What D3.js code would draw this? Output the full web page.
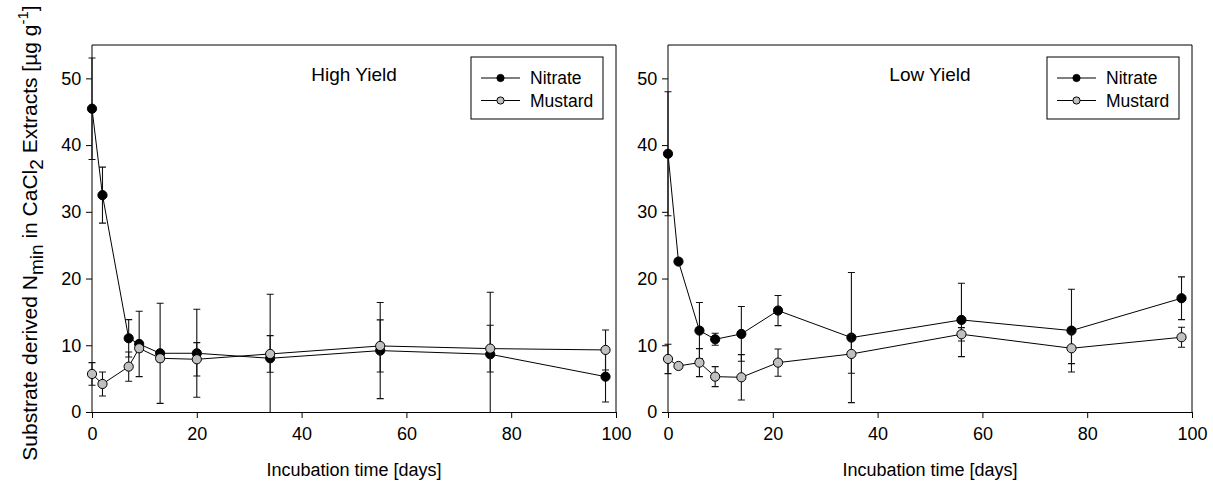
<!DOCTYPE html>
<html>
<head>
<meta charset="utf-8">
<script src="https://cdn.jsdelivr.net/npm/d3@7"></script>
<style>
  body { margin: 0; background: #fff; }
  svg { display: block; font-family: Arial, "Liberation Sans", sans-serif; }
</style>
</head>
<body>
<svg></svg>
<script>
// High yield soil
const daysHigh = [0, 2, 7, 9, 13, 20, 34, 55, 76, 98];
const nitrateHigh = [45.45, 32.5, 11.05, 10.2, 8.8, 8.8, 8.05, 9.2, 8.65, 5.3];
const nitrateHighErr = [7.6, 4.2, 2.8, 4.9, 7.5, 6.6, 9.6, 7.2, 9.3, 3.8];
const mustardHigh = [5.7, 4.2, 6.8, 9.55, 8.05, 7.9, 8.7, 9.9, 9.5, 9.3];
const mustardHighErr = [1.7, 1.8, 2.2, 0.5, 0.5, 2.5, 2.75, 3.9, 3.5, 3.0];

// Low yield soil
const daysLow = [0, 2, 6, 9, 14, 21, 35, 56, 77, 98];
const nitrateLow = [38.7, 22.55, 12.2, 10.9, 11.7, 15.2, 11.15, 13.8, 12.2, 17.05];
const nitrateLowErr = [9.3, 0.4, 4.2, 0.9, 4.1, 2.25, 9.75, 5.5, 6.2, 3.2];
const mustardLow = [7.95, 6.9, 7.4, 5.3, 5.2, 7.4, 8.7, 11.65, 9.55, 11.2];
const mustardLowErr = [2.2, 0.4, 2.1, 1.5, 3.4, 2.05, 2.9, 1.0, 2.3, 1.5];

const xTicks = [0, 20, 40, 60, 80, 100];
const yTicks = [0, 10, 20, 30, 40, 50];
const seriesNames = ["Nitrate", "Mustard"];
const seriesFill = ["#000000", "#c0c0c0"];

const width = 1213, height = 485;
const marginTop = 45, marginBottom = 73;

const svg = d3.select("svg")
  .attr("width", width)
  .attr("height", height)
  .attr("viewBox", [0, 0, width, height]);

const y = d3.scaleLinear()
  .domain([0, 55])
  .range([height - marginBottom, marginTop]);

function panel(id, left, right, title, days, series) {
  const x = d3.scaleLinear().domain([0, 100]).range([left, right]);
  const g = svg.append("g");

  // error bars are cut at the x axis, markers are not
  g.append("clipPath").attr("id", id)
    .append("rect")
    .attr("x", left - 10).attr("y", 0)
    .attr("width", right - left + 20).attr("height", y(0));

  // frame (top and right edges)
  g.append("path")
    .attr("d", `M${left},${marginTop}H${right}V${y(0)}`)
    .attr("fill", "none").attr("stroke", "#000");

  // axes
  g.append("g")
    .attr("transform", `translate(0,${y(0)})`)
    .call(d3.axisBottom(x).tickValues(xTicks).tickSize(6).tickSizeOuter(0))
    .call(a => a.selectAll("text").attr("font-size", 18).attr("dy", "1.05em")
      .attr("font-family", "Arial, 'Liberation Sans', sans-serif"));
  g.append("g")
    .attr("transform", `translate(${left},0)`)
    .call(d3.axisLeft(y).tickValues(yTicks).tickSize(6).tickSizeOuter(0))
    .call(a => a.select(".domain").attr("d", `M0,${y(0)}V${marginTop}`))
    .call(a => a.selectAll("text").attr("font-size", 18).attr("dx", "-0.1em")
      .attr("font-family", "Arial, 'Liberation Sans', sans-serif"));

  g.append("text")
    .attr("x", (left + right) / 2).attr("y", 81)
    .attr("text-anchor", "middle").attr("font-size", 19)
    .text(title);

  g.append("text")
    .attr("x", (left + right) / 2).attr("y", 476)
    .attr("text-anchor", "middle").attr("font-size", 18)
    .text("Incubation time [days]");

  const plot = g.append("g");

  series.forEach((s, k) => {
    const pts = days.map((d, i) => ({ d, v: s.values[i], e: s.errors[i] }));

    plot.append("path")
      .datum(pts)
      .attr("fill", "none").attr("stroke", "#000").attr("stroke-width", 1)
      .attr("d", d3.line().x(p => x(p.d)).y(p => y(p.v)));

    const eb = plot.append("g").attr("clip-path", `url(#${id})`)
      .attr("stroke", "#111").attr("stroke-width", 1.1);
    eb.selectAll("path")
      .data(pts)
      .join("path")
      .attr("fill", "none")
      .attr("d", p => {
        const cx = x(p.d), t = y(p.v + p.e), b = y(p.v - p.e);
        return `M${cx},${t}V${b}M${cx - 3.5},${t}H${cx + 3.5}M${cx - 3.5},${b}H${cx + 3.5}`;
      });

    plot.append("g").selectAll("circle")
      .data(pts)
      .join("circle")
      .attr("cx", p => x(p.d)).attr("cy", p => y(p.v))
      .attr("r", 4.6)
      .attr("fill", seriesFill[k]).attr("stroke", "#000").attr("stroke-width", 1);
  });

  // legend
  const lw = 132, lh = 62;
  const lx = right - 13 - lw, ly = marginTop + 12;
  const lg = g.append("g").attr("transform", `translate(${lx},${ly})`);
  lg.append("rect").attr("width", lw).attr("height", lh)
    .attr("fill", "#fff").attr("stroke", "#000");
  seriesNames.forEach((name, k) => {
    const ry = 21 + k * 22.5;
    lg.append("line").attr("x1", 10).attr("x2", 49).attr("y1", ry).attr("y2", ry)
      .attr("stroke", "#000");
    lg.append("circle").attr("cx", 29.5).attr("cy", ry).attr("r", 3.6)
      .attr("fill", seriesFill[k]).attr("stroke", "#000");
    lg.append("text").attr("x", 59).attr("y", ry).attr("dy", "0.35em")
      .attr("font-size", 17.5).text(name);
  });
}

panel("clipHigh", 92, 616, "High Yield", daysHigh, [
  { values: nitrateHigh, errors: nitrateHighErr },
  { values: mustardHigh, errors: mustardHighErr }
]);
panel("clipLow", 668, 1192, "Low Yield", daysLow, [
  { values: nitrateLow, errors: nitrateLowErr },
  { values: mustardLow, errors: mustardLowErr }
]);

// y-axis label with sub/superscripts
const yl = svg.append("text")
  .attr("transform", "translate(37,233) rotate(-90)")
  .attr("text-anchor", "middle")
  .attr("font-size", 21);
yl.append("tspan").text("Substrate derived N");
yl.append("tspan").attr("dy", 6).attr("font-size", 19).text("min");
yl.append("tspan").attr("dy", -6).text(" in CaCl");
yl.append("tspan").attr("dy", 6).attr("font-size", 19).text("2");
yl.append("tspan").attr("dy", -6).text(" Extracts [µg g");
yl.append("tspan").attr("dy", -9).attr("font-size", 15).text("-1");
yl.append("tspan").attr("dy", 9).text("]");
</script>
</body>
</html>
